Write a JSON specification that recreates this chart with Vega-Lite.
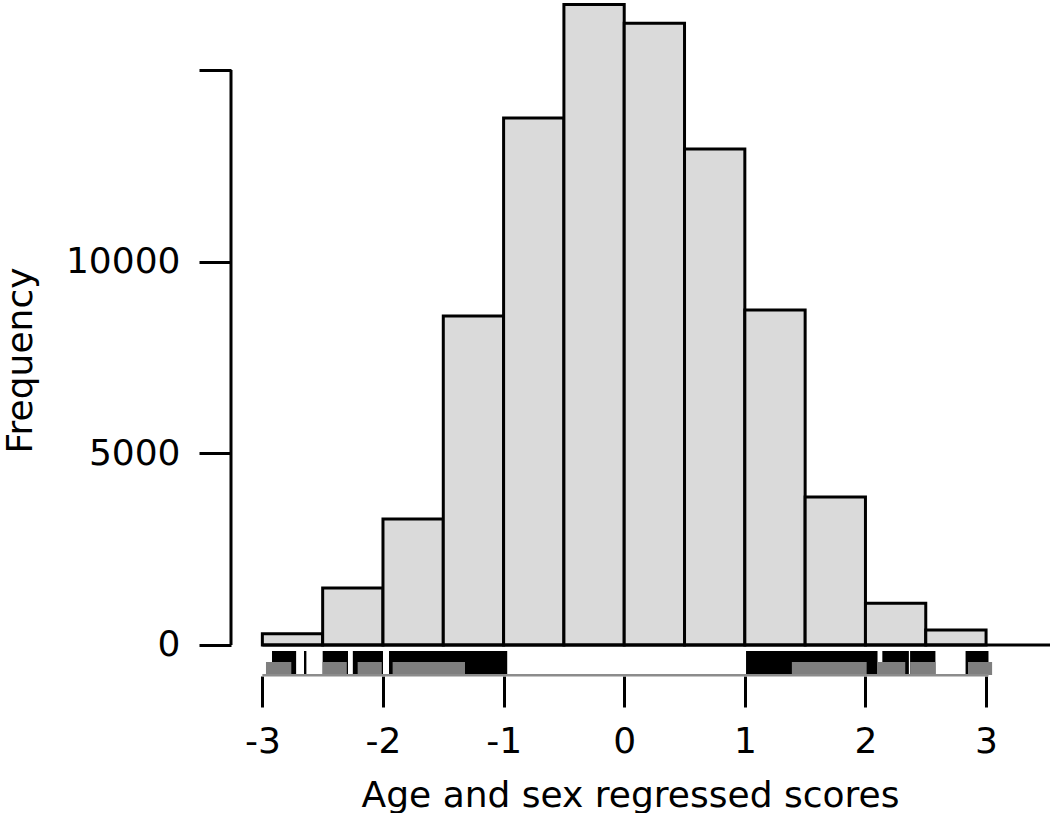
{
  "$schema": "https://vega.github.io/schema/vega-lite/v6.json",
  "width": 819,
  "height": 606,
  "autosize": {"type": "none"},
  "padding": {"left": 231, "top": 70, "right": 0, "bottom": 137},
  "background": "white",
  "config": {"view": {"stroke": null}, "font": "DejaVu Sans"},
  "datasets": {
    "bins": [
      {"start": -3, "end": -2.5, "count": 290},
      {"start": -2.5, "end": -2, "count": 1487},
      {"start": -2, "end": -1.5, "count": 3287},
      {"start": -1.5, "end": -1, "count": 8583},
      {"start": -1, "end": -0.5, "count": 13749},
      {"start": -0.5, "end": 0, "count": 16710},
      {"start": 0, "end": 0.5, "count": 16220},
      {"start": 0.5, "end": 1, "count": 12940},
      {"start": 1, "end": 1.5, "count": 8740},
      {"start": 1.5, "end": 2, "count": 3861},
      {"start": 2, "end": 2.5, "count": 1088},
      {"start": 2.5, "end": 3, "count": 391}
    ],
    "rugBlack": [
      {"from": -2.92, "to": -2.72},
      {"from": -2.655, "to": -2.635},
      {"from": -2.5, "to": -2.29},
      {"from": -2.25, "to": -2.0},
      {"from": -1.95, "to": -0.97},
      {"from": 1.01, "to": 2.1},
      {"from": 2.14, "to": 2.36},
      {"from": 2.37, "to": 2.58},
      {"from": 2.83, "to": 3.02}
    ],
    "rugGrey": [
      {"from": -2.97, "to": -2.76},
      {"from": -2.5, "to": -2.3},
      {"from": -2.21, "to": -2.01},
      {"from": -1.92, "to": -1.32},
      {"from": 1.39, "to": 2.01},
      {"from": 2.1, "to": 2.33},
      {"from": 2.37, "to": 2.58},
      {"from": 2.85, "to": 3.05}
    ],
    "one": [{}]
  },
  "layer": [
    {
      "data": {"name": "bins"},
      "mark": {"type": "rect", "fill": "#dadada", "stroke": "black", "strokeWidth": 3},
      "encoding": {
        "x": {
          "field": "start",
          "type": "quantitative",
          "scale": {"domain": [-3.26, 3.53], "nice": false, "zero": false},
          "axis": {
            "values": [-3, -2, -1, 0, 1, 2, 3],
            "domain": false,
            "grid": false,
            "tickSize": 31,
            "tickWidth": 3,
            "tickColor": "black",
            "labelFont": "DejaVu Sans",
            "labelFontSize": 36,
            "labelColor": "black",
            "labelPadding": 17,
            "labelExpr": "'' + datum.value",
            "title": "Age and sex regressed scores",
            "titleFont": "DejaVu Sans",
            "titleFontSize": 36,
            "titleFontWeight": "normal",
            "titleColor": "black",
            "titleX": 399,
            "titleY": 130,
            "titleBaseline": "alphabetic"
          }
        },
        "x2": {"field": "end"},
        "y": {
          "field": "count",
          "type": "quantitative",
          "scale": {"domain": [-809, 15000], "nice": false, "zero": false},
          "axis": {
            "values": [0, 5000, 10000, 15000],
            "domain": false,
            "grid": false,
            "tickSize": 32,
            "tickWidth": 3,
            "tickColor": "black",
            "labelFont": "DejaVu Sans",
            "labelFontSize": 36,
            "labelColor": "black",
            "labelPadding": 19,
            "labelExpr": "datum.value == 15000 ? '' : '' + datum.value",
            "title": "Frequency",
            "titleFont": "DejaVu Sans",
            "titleFontSize": 36,
            "titleFontWeight": "normal",
            "titleColor": "black",
            "titleX": -200,
            "titleY": 290,
            "titleAngle": -90,
            "titleAlign": "center",
            "titleBaseline": "alphabetic"
          }
        },
        "y2": {"datum": 0}
      }
    },
    {
      "data": {"name": "one"},
      "mark": {"type": "rule", "color": "black", "strokeWidth": 3},
      "encoding": {
        "x": {"datum": -3, "type": "quantitative"},
        "x2": {"datum": 3.53},
        "y": {"datum": 0, "type": "quantitative"}
      }
    },
    {
      "data": {"name": "one"},
      "mark": {"type": "rule", "color": "black", "strokeWidth": 3},
      "encoding": {
        "x": {"datum": -3.26, "type": "quantitative"},
        "y": {"datum": 0, "type": "quantitative"},
        "y2": {"datum": 15000}
      }
    },
    {
      "data": {"name": "rugBlack"},
      "mark": {"type": "rect", "color": "black"},
      "encoding": {
        "x": {"field": "from", "type": "quantitative"},
        "x2": {"field": "to"},
        "y": {"datum": -157, "type": "quantitative"},
        "y2": {"datum": -783}
      }
    },
    {
      "data": {"name": "rugGrey"},
      "mark": {"type": "rect", "color": "#7f7f7f"},
      "encoding": {
        "x": {"field": "from", "type": "quantitative"},
        "x2": {"field": "to"},
        "y": {"datum": -444, "type": "quantitative"},
        "y2": {"datum": -783}
      }
    },
    {
      "data": {"name": "one"},
      "mark": {"type": "rule", "color": "#8c8c8c", "strokeWidth": 2.5},
      "encoding": {
        "x": {"datum": -3, "type": "quantitative"},
        "x2": {"datum": 3.02},
        "y": {"datum": -790, "type": "quantitative"}
      }
    }
  ]
}
